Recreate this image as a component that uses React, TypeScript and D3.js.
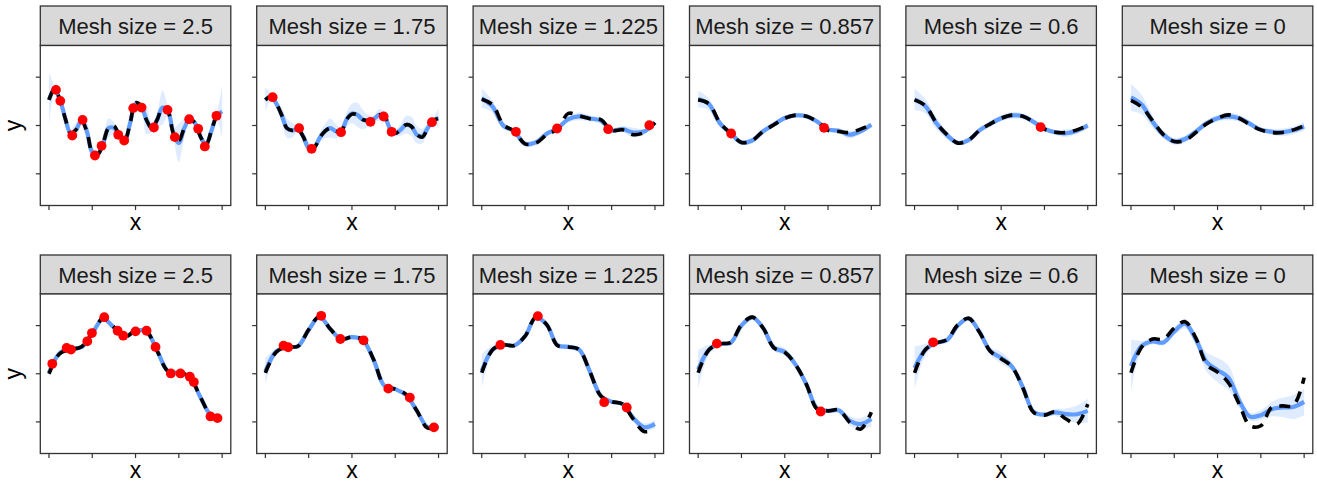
import { useEffect, useRef } from "react";
import * as d3 from "d3";

const width = 1317;
const height = 481;
const panelW = 190.5;
const colStep = 216.4;
const firstLeft = 40.3;
const rows = [
  { stripTop: 6, top: 45.5, bottom: 205.5 },
  { stripTop: 255, top: 294, bottom: 453.5 },
];

const meshSizes = ["2.5", "1.75", "1.225", "0.857", "0.6", "0"];
const xTicks = [0, 1, 2, 3, 4];
const yTicks = [-1, 0, 1];

// sampling grids for the curves
const fineX = [0, 0.125, 0.25, 0.375, 0.5, 0.625, 0.75, 0.875, 1, 1.125, 1.25, 1.375, 1.5, 1.625, 1.75, 1.875, 2,
  2.125, 2.25, 2.375, 2.5, 2.625, 2.75, 2.875, 3, 3.125, 3.25, 3.375, 3.5, 3.625, 3.75, 3.875, 4];
const coarseX = [0, 0.25, 0.5, 0.75, 1, 1.25, 1.5, 1.75, 2, 2.25, 2.5, 2.75, 3, 3.25, 3.5, 3.75, 4];

// top row: true function, fitted mean, band half width, observations
const topTruth = [
  [0.53, 0.75, 0.545, 0.15, -0.16, -0.09, 0.10, -0.12, -0.55, -0.6, -0.37, -0.055, -0.01, -0.19, -0.30, 0.05, 0.47,
    0.41, 0.12, -0.055, 0.12, 0.38, 0.29, -0.16, -0.31, -0.055, 0.13, 0.05, -0.23, -0.40, -0.12, 0.20, 0.29],
  [0.53, 0.60, 0.46, 0.22, -0.055, -0.10, -0.075, -0.23, -0.46, -0.46, -0.26, -0.12, -0.055, -0.12, -0.12, 0.12, 0.235,
    0.22, 0.12, 0.10, 0.13, 0.22, 0.19, -0.055, -0.16, -0.09, 0.015, -0.02, -0.19, -0.24, -0.055, 0.10, 0.15],
  [0.545, 0.43, 0.015, -0.12, -0.38, -0.365, -0.19, -0.075, 0.25, 0.2, 0.14, 0.12, -0.10, -0.09, -0.19, -0.145, 0.06],
  [0.53, 0.45, 0.06, -0.16, -0.35, -0.31, -0.12, 0.015, 0.15, 0.215, 0.19, 0.08, -0.10, -0.125, -0.145, -0.075, 0.015],
  [0.53, 0.41, 0.06, -0.19, -0.365, -0.30, -0.10, 0.035, 0.15, 0.215, 0.19, 0.075, -0.075, -0.14, -0.145, -0.09, 0],
  [0.52, 0.38, 0.10, -0.19, -0.33, -0.31, -0.145, 0.035, 0.15, 0.22, 0.15, 0.015, -0.09, -0.145, -0.145, -0.09, -0.007],
];
const topFit = [
  [0.53, 0.75, 0.545, 0.15, -0.16, -0.09, 0.10, -0.12, -0.55, -0.6, -0.37, -0.055, -0.05, -0.19, -0.30, 0.05, 0.45,
    0.41, 0.12, -0.055, 0.12, 0.37, 0.29, -0.16, -0.36, -0.055, 0.13, 0.05, -0.23, -0.40, -0.12, 0.20, 0.29],
  [0.53, 0.60, 0.46, 0.22, -0.055, -0.10, -0.075, -0.23, -0.46, -0.46, -0.26, -0.12, -0.055, -0.12, -0.12, 0.12, 0.25,
    0.22, 0.12, 0.10, 0.13, 0.22, 0.19, -0.055, -0.16, -0.09, 0.015, -0.02, -0.19, -0.22, -0.055, 0.10, 0.15],
  [0.565, 0.39, -0.005, -0.12, -0.38, -0.35, -0.17, -0.06, 0.13, 0.19, 0.145, 0.10, -0.10, -0.075, -0.145, -0.125, 0.06],
  [0.55, 0.44, 0.05, -0.16, -0.35, -0.31, -0.12, 0.02, 0.155, 0.21, 0.19, 0.08, -0.08, -0.11, -0.19, -0.12, 0.015],
  [0.54, 0.40, 0.05, -0.2, -0.36, -0.30, -0.10, 0.035, 0.15, 0.21, 0.19, 0.075, -0.07, -0.14, -0.16, -0.11, 0],
  [0.58, 0.43, 0.08, -0.19, -0.33, -0.28, -0.125, 0.05, 0.15, 0.19, 0.15, 0.035, -0.09, -0.13, -0.14, -0.10, -0.02],
];
const topSd = [
  [0.55, 0.08, 0.05, 0.15, 0.08, 0.15, 0.06, 0.2, 0.12, 0.08, 0.06, 0.2, 0.12, 0.05, 0.05, 0.12, 0.06,
    0.05, 0.3, 0.08, 0.15, 0.35, 0.08, 0.1, 0.4, 0.2, 0.06, 0.08, 0.1, 0.08, 0.15, 0.06, 0.55],
  [0.25, 0.08, 0.06, 0.15, 0.2, 0.15, 0.06, 0.1, 0.12, 0.06, 0.1, 0.15, 0.2, 0.15, 0.06, 0.15, 0.2,
    0.25, 0.2, 0.12, 0.06, 0.12, 0.1, 0.06, 0.06, 0.12, 0.18, 0.2, 0.18, 0.15, 0.1, 0.06, 0.2],
  [0.2, 0.12, 0.08, 0.03, 0.06, 0.06, 0.06, 0.03, 0.06, 0.08, 0.06, 0.06, 0.03, 0.06, 0.1, 0.06, 0.05],
  [0.17, 0.12, 0.08, 0.03, 0.05, 0.06, 0.06, 0.05, 0.05, 0.05, 0.05, 0.04, 0.03, 0.05, 0.08, 0.06, 0.04],
  [0.22, 0.15, 0.12, 0.08, 0.05, 0.06, 0.06, 0.06, 0.06, 0.07, 0.06, 0.04, 0.03, 0.05, 0.08, 0.06, 0.06],
  [0.28, 0.2, 0.12, 0.08, 0.07, 0.07, 0.06, 0.06, 0.07, 0.08, 0.07, 0.06, 0.05, 0.06, 0.08, 0.08, 0.09],
];
const topObsX = [
  [0.162, 0.262, 0.538, 0.777, 1.062, 1.215, 1.6, 1.738, 1.946, 2.138, 2.423, 2.738, 2.908, 3.238, 3.446, 3.6, 3.869],
  [0.168, 0.779, 1.069, 1.748, 2.427, 2.733, 2.916, 3.847],
  [0.789, 1.739, 2.92, 3.87],
  [0.762, 2.908],
  [2.912],
  [],
];
const topObsY = [
  [0.738, 0.51, -0.207, 0.117, -0.621, -0.421, -0.193, -0.31, 0.359, 0.372, -0.041, 0.324, -0.241, 0.131, -0.069, -0.434, 0.2],
  [0.586, -0.055, -0.483, -0.138, 0.076, 0.186, -0.131, 0.069],
  [-0.131, -0.062, -0.076, 0.007],
  [-0.166, -0.048],
  [-0.034],
  [],
];

// bottom row
const botTruth = [
  [0.0, 0.42, 0.50, 0.56, 0.845, 1.15, 0.97, 0.76, 0.90, 0.88, 0.47, 0.055, 0.02, -0.06, -0.49, -0.87, -0.91],
  [0.02, 0.45, 0.555, 0.57, 0.915, 1.19, 0.93, 0.72, 0.76, 0.71, 0.295, -0.25, -0.32, -0.43, -0.77, -1.13, -1.08],
  [0.02, 0.50, 0.60, 0.585, 0.78, 1.175, 1.02, 0.585, 0.557, 0.50, 0.035, -0.46, -0.577, -0.63, -0.94, -1.20, -1.16],
  [0.02, 0.50, 0.62, 0.65, 1.017, 1.175, 0.95, 0.536, 0.447, 0.19, -0.22, -0.735, -0.77, -0.75, -1.01, -1.15, -0.80],
  [0.02, 0.50, 0.64, 0.71, 1.017, 1.15, 0.86, 0.467, 0.31, 0.144, -0.29, -0.80, -0.86, -0.79, -0.94, -1.045, -0.63],
  [0.02, 0.56, 0.72, 0.72, 0.95, 1.08, 0.74, 0.19, 0.034, -0.186, -0.63, -1.08, -1.08, -0.70, -0.667, -0.66, -0.08],
];
const botFit = [
  [0.02, 0.43, 0.52, 0.55, 0.84, 1.14, 0.96, 0.77, 0.89, 0.88, 0.48, 0.05, 0.02, -0.07, -0.49, -0.87, -0.92],
  [0.05, 0.46, 0.56, 0.57, 0.91, 1.18, 0.93, 0.72, 0.76, 0.70, 0.29, -0.25, -0.32, -0.44, -0.77, -1.11, -1.09],
  [0.06, 0.50, 0.60, 0.585, 0.78, 1.17, 1.02, 0.59, 0.557, 0.50, 0.04, -0.46, -0.58, -0.63, -0.92, -1.11, -1.045],
  [0.09, 0.50, 0.62, 0.64, 1.0, 1.17, 0.95, 0.54, 0.45, 0.19, -0.22, -0.72, -0.77, -0.76, -0.976, -1.045, -0.94],
  [0.12, 0.50, 0.64, 0.70, 1.0, 1.15, 0.87, 0.47, 0.33, 0.15, -0.28, -0.79, -0.85, -0.80, -0.84, -0.84, -0.77],
  [0.16, 0.58, 0.67, 0.65, 0.88, 1.04, 0.71, 0.24, 0.076, -0.08, -0.56, -0.89, -0.86, -0.735, -0.70, -0.69, -0.585],
];
const botSd = [
  [0.12, 0.04, 0.03, 0.03, 0.03, 0.03, 0.03, 0.03, 0.03, 0.03, 0.03, 0.03, 0.03, 0.03, 0.04, 0.03, 0.06],
  [0.28, 0.06, 0.03, 0.04, 0.04, 0.03, 0.04, 0.03, 0.04, 0.03, 0.04, 0.03, 0.04, 0.03, 0.04, 0.04, 0.04],
  [0.35, 0.08, 0.03, 0.04, 0.05, 0.03, 0.05, 0.05, 0.05, 0.05, 0.05, 0.04, 0.03, 0.04, 0.06, 0.08, 0.08],
  [0.4, 0.1, 0.03, 0.05, 0.05, 0.05, 0.06, 0.07, 0.08, 0.06, 0.05, 0.04, 0.04, 0.06, 0.1, 0.12, 0.15],
  [0.45, 0.12, 0.04, 0.05, 0.05, 0.05, 0.06, 0.08, 0.12, 0.08, 0.06, 0.05, 0.05, 0.07, 0.12, 0.18, 0.25],
  [0.55, 0.1, 0.06, 0.06, 0.08, 0.1, 0.12, 0.2, 0.25, 0.25, 0.15, 0.08, 0.1, 0.15, 0.2, 0.25, 0.28],
];
const botObsX = [
  [0.077, 0.408, 0.508, 0.885, 0.992, 1.277, 1.585, 1.715, 2.0, 2.254, 2.462, 2.815, 3.038, 3.254, 3.346, 3.731, 3.892],
  [0.42, 0.527, 1.29, 1.733, 2.267, 2.84, 3.336, 3.893],
  [0.429, 1.295, 2.828, 3.349],
  [0.431, 2.831],
  [0.429],
  [],
];
const botObsY = [
  [0.206, 0.536, 0.502, 0.674, 0.845, 1.175, 0.893, 0.79, 0.88, 0.893, 0.557, 0.007, 0.007, -0.062, -0.172, -0.887, -0.921],
  [0.584, 0.55, 1.203, 0.722, 0.694, -0.309, -0.495, -1.113],
  [0.598, 1.196, -0.591, -0.701],
  [0.625, -0.784],
  [0.653],
  [],
];

const fontFamily = "'Liberation Sans', Arial, Helvetica, sans-serif";
const frameColor = "#333333";

const App = () => {
  const svgRef = useRef(null);

  useEffect(() => {
    const svg = d3.select(svgRef.current);
    svg.selectAll("*").remove();

    const rowData = [
      { truth: topTruth, fit: topFit, sd: topSd, ox: topObsX, oy: topObsY },
      { truth: botTruth, fit: botFit, sd: botSd, ox: botObsX, oy: botObsY },
    ];

    rowData.forEach((rd, r) => {
      const row = rows[r];
      const y = d3.scaleLinear().domain([-1.656, 1.656]).range([row.bottom, row.top]);

      meshSizes.forEach((mesh, c) => {
        const left = firstLeft + c * colStep;
        const x = d3.scaleLinear().domain([-0.2, 4.2]).range([left, left + panelW]);
        const truth = rd.truth[c];
        const grid = truth.length === fineX.length ? fineX : coarseX;
        const table = grid.map((gx, i) => ({
          x: gx,
          truth: truth[i],
          fit: rd.fit[c][i],
          lo: rd.fit[c][i] - rd.sd[c][i],
          hi: rd.fit[c][i] + rd.sd[c][i],
        }));
        const obs = rd.ox[c].map((ox, i) => ({ x: ox, y: rd.oy[c][i] }));

        const g = svg.append("g");

        // strip
        g.append("rect")
          .attr("x", left)
          .attr("y", row.stripTop)
          .attr("width", panelW)
          .attr("height", row.top - row.stripTop)
          .attr("fill", "#D9D9D9")
          .attr("stroke", frameColor)
          .attr("stroke-width", 1.3);
        g.append("text")
          .attr("x", left + panelW / 2)
          .attr("y", row.stripTop + 28.3)
          .attr("text-anchor", "middle")
          .attr("font-family", fontFamily)
          .attr("font-size", 22)
          .attr("fill", "#1A1A1A")
          .text(`Mesh size = ${mesh}`);

        g.append("rect")
          .attr("x", left)
          .attr("y", row.top)
          .attr("width", panelW)
          .attr("height", row.bottom - row.top)
          .attr("fill", "white");

        const clipId = `clip-${r}-${c}`;
        g.append("clipPath")
          .attr("id", clipId)
          .append("rect")
          .attr("x", left)
          .attr("y", row.top)
          .attr("width", panelW)
          .attr("height", row.bottom - row.top);

        const plot = g.append("g").attr("clip-path", `url(#${clipId})`);

        const curve = d3.curveCatmullRom.alpha(0.5);
        const band = d3.area<any>()
          .x(d => x(d.x))
          .y0(d => y(d.lo))
          .y1(d => y(d.hi))
          .curve(curve);
        plot.append("path")
          .datum(table)
          .attr("d", band)
          .attr("fill", "#619CFF")
          .attr("fill-opacity", 0.2);

        const fitLine = d3.line<any>().x(d => x(d.x)).y(d => y(d.fit)).curve(curve);
        plot.append("path")
          .datum(table)
          .attr("d", fitLine)
          .attr("fill", "none")
          .attr("stroke", "#619CFF")
          .attr("stroke-width", 4.2);

        const truthLine = d3.line<any>().x(d => x(d.x)).y(d => y(d.truth)).curve(curve);
        plot.append("path")
          .datum(table)
          .attr("d", truthLine)
          .attr("fill", "none")
          .attr("stroke", "black")
          .attr("stroke-width", 3.6)
          .attr("stroke-dasharray", "11 8");

        plot.selectAll("circle")
          .data(obs)
          .join("circle")
          .attr("cx", d => x(d.x))
          .attr("cy", d => y(d.y))
          .attr("r", 4.9)
          .attr("fill", "red");

        g.append("rect")
          .attr("x", left)
          .attr("y", row.top)
          .attr("width", panelW)
          .attr("height", row.bottom - row.top)
          .attr("fill", "none")
          .attr("stroke", frameColor)
          .attr("stroke-width", 1.3);

        // ticks, no labels
        g.selectAll(".xt")
          .data(xTicks)
          .join("line")
          .attr("x1", d => x(d))
          .attr("x2", d => x(d))
          .attr("y1", row.bottom)
          .attr("y2", row.bottom + 4.5)
          .attr("stroke", frameColor)
          .attr("stroke-width", 1.2);
        g.selectAll(".yt")
          .data(yTicks)
          .join("line")
          .attr("x1", left - 4.5)
          .attr("x2", left)
          .attr("y1", d => y(d))
          .attr("y2", d => y(d))
          .attr("stroke", frameColor)
          .attr("stroke-width", 1.2);

        g.append("text")
          .attr("x", left + panelW / 2)
          .attr("y", row.bottom + 24)
          .attr("text-anchor", "middle")
          .attr("font-family", fontFamily)
          .attr("font-size", 23)
          .attr("fill", "black")
          .text("x");

        if (c === 0) {
          g.append("text")
            .attr("transform", `translate(21,${y(0)}) rotate(-90)`)
            .attr("text-anchor", "middle")
            .attr("font-family", fontFamily)
            .attr("font-size", 23)
            .attr("fill", "black")
            .text("y");
        }
      });
    });
  }, []);

  return (
    <svg
      ref={svgRef}
      width={width}
      height={height}
      style={{ position: "absolute", left: 0, top: 0, background: "white" }}
    ></svg>
  );
};

export default App;
